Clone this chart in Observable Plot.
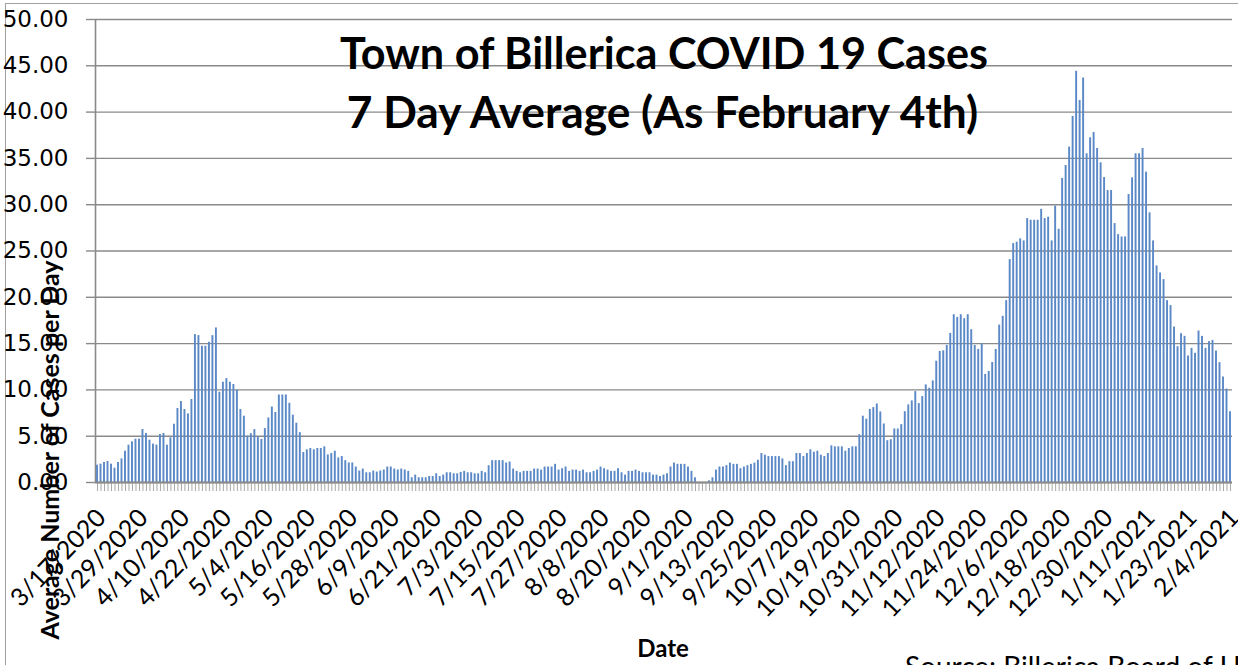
<!DOCTYPE html>
<html>
<head>
<meta charset="utf-8">
<script src="https://cdn.jsdelivr.net/npm/d3@7"></script>
<script src="https://cdn.jsdelivr.net/npm/@observablehq/plot@0.6"></script>
<style>
  html, body { margin: 0; padding: 0; background: #fff; }
  #wrap { position: relative; width: 1238px; height: 665px; overflow: hidden; background: #fff; }
  #border { position: absolute; left: 5px; top: 3px; width: 1300px; height: 800px; border: 1px solid #a0a0a0; box-sizing: border-box; }
  #chart { position: absolute; left: 0; top: 0; }
  .t { position: absolute; font-family: Lato, "Open Sans", sans-serif; font-weight: 700; color: #000; white-space: nowrap; line-height: 1.2; }
  #title1 { left: 0; width: 1328px; text-align: center; top: 27px; font-size: 43.2px; }
  #title2 { left: 0; width: 1325px; text-align: center; top: 84px; font-size: 44.3px; }
  #ytitle { left: 49px; top: 450px; font-size: 25px; transform: translate(-50%, -50%) rotate(-90deg); }
  #xtitle { left: 0; width: 1326px; text-align: center; top: 634px; font-size: 24px; }
  #source { left: 905px; top: 650px; font-size: 28px; font-weight: 400; }
</style>
</head>
<body>
<div id="wrap">
  <div id="border"></div>
  <div id="chart"></div>
  <div class="t" id="title1">Town of Billerica COVID 19 Cases</div>
  <div class="t" id="title2">7 Day Average (As February 4th)</div>
  <div class="t" id="ytitle">Average Number of Cases per Day</div>
  <div class="t" id="xtitle">Date</div>
  <div class="t" id="source">Source: Billerica Board of Health</div>
</div>
<script>
const startDate = "2020-03-17";

const avgCases = [
  1.87, 1.98, 2.16, 2.27, 1.98, 1.55, 2.16, 2.55, 3.38, 4.03, 4.39, 4.68, 4.68, 5.72, 5.29, 4.57, 4.14, 4.03, 5.18, 5.29,
  4.03, 4.82, 6.29, 7.99, 8.74, 7.88, 7.41, 8.96, 15.97, 15.86, 14.71, 14.71, 15.14, 15.86, 16.69, 9.75, 10.83, 11.22, 10.83, 10.58,
  9.96, 7.88, 7.16, 5.0, 5.27,
  5.71, 4.9, 4.65, 5.82, 6.98, 8.15, 7.56, 9.45, 9.45, 9.45, 8.55, 7.27, 6.4, 5.38, 3.24, 3.53, 3.67, 3.53, 3.67, 3.67,
  3.85, 2.98, 3.13, 3.38, 2.65, 2.8, 2.36, 2.11, 2.11, 1.67, 1.24, 1.45, 1.05, 1.05, 1.24, 1.13, 1.24, 1.35, 1.67, 1.67,
  1.45, 1.35, 1.45, 1.35,
  1.2, 0.51, 0.8, 0.51, 0.51, 0.51, 0.65, 0.65, 0.94, 0.65, 0.8, 1.05, 1.05, 0.94, 0.94, 1.09, 1.2, 1.05, 1.05, 0.94,
  0.94, 1.2, 1.05, 1.81, 2.36, 2.36, 2.36, 2.36, 2.1, 2.21, 1.45, 1.2, 1.05, 1.2, 1.2, 1.2, 1.45, 1.45, 1.34, 1.67,
  1.67, 1.67, 1.96, 1.34,
  1.49, 1.67, 1.2, 1.34, 1.34, 1.2, 1.34, 1.05, 1.05, 1.2, 1.34, 1.67, 1.49, 1.34, 1.2, 1.2, 1.49, 1.05, 0.8, 1.2,
  1.2, 1.34, 1.2, 1.05, 1.05, 1.05, 0.8, 0.8, 0.65, 0.8, 0.94, 1.67, 2.1, 1.96, 1.96, 1.96, 1.67, 1.2, 0.51, 0,
  0, 0, 0.18, 0.51, 1.34, 1.67,
  1.67, 1.82, 2.1, 1.96, 1.96, 1.49, 1.67, 1.82, 1.96, 2.1, 2.4, 3.13, 2.95, 2.8, 2.8, 2.8, 2.8, 2.55, 1.82, 2.25,
  2.25, 3.13, 3.13, 2.8, 3.13, 3.53, 3.27, 3.38, 2.95, 2.8, 3.13, 3.96, 3.85, 3.85, 3.85, 3.38, 3.67, 3.85, 3.85, 5.16,
  7.16, 6.84, 7.89,
  8.09, 8.48, 7.62, 6.32, 4.51, 4.62, 5.78, 5.78, 6.25, 7.65, 8.38, 8.81, 9.82, 8.52, 9.28, 10.54, 10.18, 10.97, 13.1, 14.15,
  14.22, 14.8, 16.1, 18.12, 17.83, 18.12, 17.69, 18.12, 16.5, 14.8, 14.37, 14.98, 11.66, 11.99, 12.96, 14.37, 17.0,
  17.95, 19.64, 24.07, 25.8, 25.95, 26.31, 26.09, 28.5, 28.32, 28.32, 28.32, 29.5, 28.5, 28.65, 26.09, 29.84, 27.35, 32.83, 34.23, 36.22,
  39.53, 44.4, 41.26, 43.68, 35.5, 37.23, 37.8, 36.07, 34.52, 32.94,
  31.53, 31.53, 27.96, 26.77, 26.52, 26.52, 31.1, 32.9, 35.5, 35.5, 36.07, 33.51, 29.12, 26.09, 23.39, 22.63, 21.91, 19.64, 19.1, 16.79,
  14.67, 16.07, 15.78, 13.66, 14.49, 13.95, 16.36, 15.78, 14.49, 15.21, 15.35, 14.2, 12.94, 11.39, 10.09, 7.64
];

const tickLabels = [
  "3/17/2020", "3/29/2020", "4/10/2020", "4/22/2020", "5/4/2020", "5/16/2020", "5/28/2020",
  "6/9/2020", "6/21/2020", "7/3/2020", "7/15/2020", "7/27/2020", "8/8/2020", "8/20/2020",
  "9/1/2020", "9/13/2020", "9/25/2020", "10/7/2020", "10/19/2020", "10/31/2020", "11/12/2020",
  "11/24/2020", "12/6/2020", "12/18/2020", "12/30/2020", "1/11/2021", "1/23/2021", "2/4/2021"
];

const yTicks = [0, 5, 10, 15, 20, 25, 30, 35, 40, 45, 50];

const fmtDate = d3.utcFormat("%-m/%-d/%Y");
const start = new Date(startDate + "T00:00:00Z");
const dates = avgCases.map((_, i) => fmtDate(d3.utcDay.offset(start, i)));
const data = avgCases.map((v, i) => ({date: dates[i], value: v}));

const gridColor = "#8a8a8a";

const chart = Plot.plot({
  width: 1238,
  height: 665,
  marginLeft: 95,
  marginRight: 6,
  marginTop: 19,
  marginBottom: 183,
  style: {background: "transparent", overflow: "visible"},
  x: {type: "band", domain: dates, paddingInner: 0.45, paddingOuter: 0.3, label: null},
  y: {domain: [0, 50], label: null},
  marks: [
    Plot.gridY(yTicks, {stroke: gridColor, strokeOpacity: 1, strokeWidth: 1.4}),
    Plot.axisY(yTicks, {
      tickFormat: d3.format(".2f"), tickSize: 9, tickPadding: 18,
      fontSize: 23, fontFamily: "DejaVu Sans", stroke: gridColor, strokeWidth: 1.4, color: "#000", label: null
    }),
    Plot.ruleX([dates[0]], {y1: 0, y2: 50, stroke: gridColor, strokeWidth: 1.6, dx: -2}),
    Plot.barY(data, {x: "date", y: "value", fill: "#5b89c7"}),
    Plot.axisX(dates, {tickSize: 9, tickFormat: () => "", stroke: "#a8a8a8", label: null}),
    Plot.axisX(tickLabels, {
      tickSize: 0, tickRotate: -46, tickPadding: 31, dx: 4,
      fontSize: 25, fontFamily: "Lato", color: "#000", label: null
    }),
    Plot.ruleY([0], {stroke: gridColor, strokeWidth: 2})
  ]
});

document.getElementById("chart").appendChild(chart);
</script>
</body>
</html>
